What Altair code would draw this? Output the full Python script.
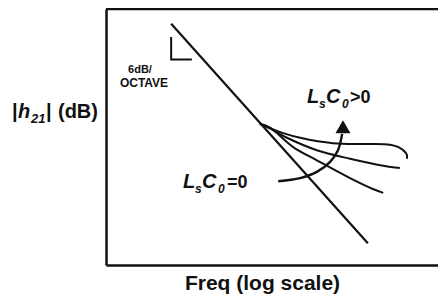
import altair as alt
import pandas as pd

# ---- data (x: octaves of frequency, y: |h21| in dB) ----
X_DOMAIN = [0, 8]
Y_DOMAIN = [-33, 0]

line_x = [1.57, 6.31]
line_y = [-1.9, -30.2]

c1_x = [3.71, 4.27, 4.68, 5.47, 6.29, 6.84, 7.08, 7.25, 7.25]
c1_y = [-14.8, -16.0, -16.6, -17.3, -17.4, -17.5, -17.9, -18.8, -19.3]
c2_x = [3.71, 3.88, 4.36, 5.08, 5.88, 6.68, 7.08]
c2_y = [-14.8, -15.2, -16.6, -18.2, -19.3, -20.2, -20.5]
c3_x = [3.71, 3.95, 4.51, 5.08, 5.88, 6.43, 6.68]
c3_y = [-14.8, -15.3, -17.8, -19.5, -21.8, -23.2, -23.7]

arrow_x = [4.15, 4.68, 5.08, 5.40, 5.59, 5.69]
arrow_y = [-22.2, -21.8, -21.0, -19.7, -18.2, -16.1]
head_x = [5.71]
head_y = [-15.17]

lmark_x = [1.57, 1.57, 2.07]
lmark_y = [-3.6, -6.5, -6.5]

# text pieces
ital_text = ["h", "21", "L", "s", "C", "0", "L", "s", "C", "0"]
ital_x = [-2.12, -1.807, 4.843, 5.133, 5.301, 5.687, 1.855, 2.145, 2.313, 2.699]
ital_y = [-14.05, -14.69, -12.12, -12.76, -12.12, -12.76, -23.07, -23.72, -23.07, -23.72]
ital_size = [20, 13, 20, 12, 20, 12, 20, 12, 20, 12]

norm_text = ["|", "|", "(dB)", ">0", "=0"]
norm_x = [-2.265, -1.446, -1.157, 5.880, 2.916]
norm_y = [-14.05, -14.05, -14.05, -12.12, -23.07]
norm_size = [20, 20, 20, 18, 18]

ctr_text = ["6dB/", "OCTAVE", "Freq (log scale)"]
ctr_x = [0.819, 0.916, 3.771]
ctr_y = [-8.31, -10.05, -36.22]
ctr_size = [11, 12, 21]

INK = "#111111"
FONT = "Liberation Sans"

xs = alt.X("x:Q", scale=alt.Scale(domain=X_DOMAIN, nice=False, zero=False),
           axis=alt.Axis(domain=True, ticks=False, labels=False, grid=False,
                         title=None, domainColor=INK, domainWidth=2.5))
ys = alt.Y("y:Q", scale=alt.Scale(domain=Y_DOMAIN, nice=False, zero=False),
           axis=alt.Axis(domain=True, ticks=False, labels=False, grid=False,
                         title=None, domainColor=INK, domainWidth=2.5))


def series(name, xv, yv):
    return pd.DataFrame({"x": xv, "y": yv, "s": name, "i": range(len(xv))})


curves = pd.concat([series("c1", c1_x, c1_y), series("c2", c2_x, c2_y),
                    series("c3", c3_x, c3_y)])

top_border = alt.Chart(pd.DataFrame({"y": [Y_DOMAIN[1]]})).mark_rule(
    color=INK, strokeWidth=2.5).encode(y=ys)

main_line = alt.Chart(series("main", line_x, line_y)).mark_line(
    color=INK, strokeWidth=2.2).encode(x=xs, y=ys, order="i:Q")

curve_lines = alt.Chart(curves).mark_line(
    color=INK, strokeWidth=2, interpolate="catmull-rom").encode(
    x=xs, y=ys, detail="s:N", order="i:Q")

arrow_line = alt.Chart(series("arrow", arrow_x, arrow_y)).mark_line(
    color=INK, strokeWidth=2.4, interpolate="catmull-rom").encode(
    x=xs, y=ys, order="i:Q")

arrow_head = alt.Chart(pd.DataFrame({"x": head_x, "y": head_y})).mark_point(
    shape="triangle-up", filled=True, color=INK, opacity=1, size=225).encode(x=xs, y=ys)

lmark = alt.Chart(series("L", lmark_x, lmark_y)).mark_line(
    color=INK, strokeWidth=2).encode(x=xs, y=ys, order="i:Q")

ital = alt.Chart(pd.DataFrame({"x": ital_x, "y": ital_y, "t": ital_text, "fs": ital_size})).mark_text(
    font=FONT, fontWeight="bold", fontStyle="italic", align="left", baseline="alphabetic",
    color=INK).encode(x=xs, y=ys, text="t:N", size=alt.Size("fs:Q", scale=None))

norm = alt.Chart(pd.DataFrame({"x": norm_x, "y": norm_y, "t": norm_text, "fs": norm_size})).mark_text(
    font=FONT, fontWeight="bold", align="left", baseline="alphabetic",
    color=INK).encode(x=xs, y=ys, text="t:N", size=alt.Size("fs:Q", scale=None))

ctr = alt.Chart(pd.DataFrame({"x": ctr_x, "y": ctr_y, "t": ctr_text, "fs": ctr_size})).mark_text(
    font=FONT, fontWeight="bold", align="center", baseline="alphabetic",
    color=INK).encode(x=xs, y=ys, text="t:N", size=alt.Size("fs:Q", scale=None))

chart = alt.layer(top_border, main_line, curve_lines, arrow_line, arrow_head, lmark,
                  ital, norm, ctr).properties(
    width=332, height=256, autosize="none",
    padding={"left": 98, "top": 1, "right": 0, "bottom": 29},
    background="white",
).configure_view(stroke=None)

chart.save("out.html", embed_options={"renderer": "svg", "actions": False})
